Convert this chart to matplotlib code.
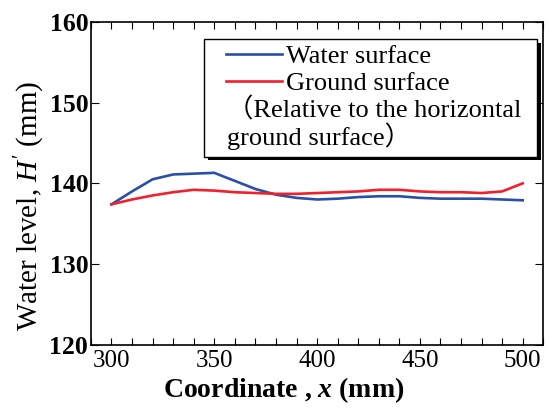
import numpy as np
import matplotlib
matplotlib.use("Agg")
import matplotlib.pyplot as plt
from matplotlib.patches import Rectangle
from matplotlib.ticker import MultipleLocator

# water level profile along the channel (mm)
coord = [300, 310, 320, 330, 340, 350, 360, 370, 380, 390, 400,
         410, 420, 430, 440, 450, 460, 470, 480, 490, 500]
water = [137.4, 139.0, 140.5, 141.1, 141.2, 141.3, 140.3, 139.3, 138.6, 138.2, 138.0,
         138.1, 138.3, 138.4, 138.4, 138.2, 138.1, 138.1, 138.1, 138.0, 137.9]
ground = [137.4, 138.0, 138.5, 138.9, 139.2, 139.1, 138.9, 138.8, 138.7, 138.7, 138.8,
          138.9, 139.0, 139.2, 139.2, 139.0, 138.9, 138.9, 138.8, 139.0, 140.0]
xticks = [300, 350, 400, 450, 500]
yticks = [120, 130, 140, 150, 160]

serif = ["Liberation Serif", "Noto Sans CJK JP"]
plt.rcParams["font.family"] = serif
plt.rcParams["mathtext.fontset"] = "custom"
plt.rcParams["mathtext.rm"] = "Liberation Serif"
plt.rcParams["mathtext.it"] = "Liberation Serif:italic"
plt.rcParams["mathtext.bf"] = "Liberation Serif:bold"
plt.rcParams["mathtext.bfit"] = "Liberation Serif:bold:italic"

fig = plt.figure(figsize=(5.51, 4.12), dpi=100)
ax = fig.add_axes([0.165, 0.163, 0.821, 0.784])

ax.plot(coord, water, color="#2a50a6", lw=1.9, label="Water surface")
ax.plot(coord, ground, color="#f0202c", lw=1.9, label="Ground surface")

ax.set_xlim(290, 510)
ax.set_ylim(120, 160)
ax.set_xticks(xticks)
ax.set_yticks(yticks)
ax.xaxis.set_minor_locator(MultipleLocator(10))
ax.tick_params(axis="x", which="both", direction="in", top=True, length=5, width=0.8,
               labelsize=18, pad=4)
ax.tick_params(axis="y", which="both", direction="in", right=True, length=6, width=0.8,
               labelsize=18.5, pad=2)
for lab in ax.get_yticklabels():
    lab.set_fontweight("bold")
for sp in ax.spines.values():
    sp.set_linewidth(1.2)

# legend box with a drop shadow
bx, by, bw, bh = 0.25, 0.582, 0.737, 0.365
ax.add_patch(Rectangle((bx + 0.008, by - 0.011), bw, bh, transform=ax.transAxes,
                       facecolor="black", edgecolor="none", zorder=4))
ax.add_patch(Rectangle((bx, by), bw, bh, transform=ax.transAxes,
                       facecolor="white", edgecolor="black", lw=1.0, zorder=5))
leg = ax.legend(loc="upper left", bbox_to_anchor=(0.299, 0.93), frameon=False,
                fontsize=19, handlelength=2.1, handletextpad=0.15, labelspacing=0.15,
                borderaxespad=0, borderpad=0)
leg.set_zorder(6)
ax.text(0.3, 0.765, "（Relative to the horizontal\nground surface）", transform=ax.transAxes,
        fontsize=19, va="top", ha="left", linespacing=1.0, zorder=6)

fig.text(0.514, 0.052, r"Coordinate , $\mathbfit{x}$ (mm)", fontsize=20, fontweight="bold",
         ha="center", va="center")
fig.text(0.055, 0.5, r"Water level, $H'$ (mm)", fontsize=21, rotation=90,
         ha="center", va="center")

fig.savefig("out.png", dpi=100)
